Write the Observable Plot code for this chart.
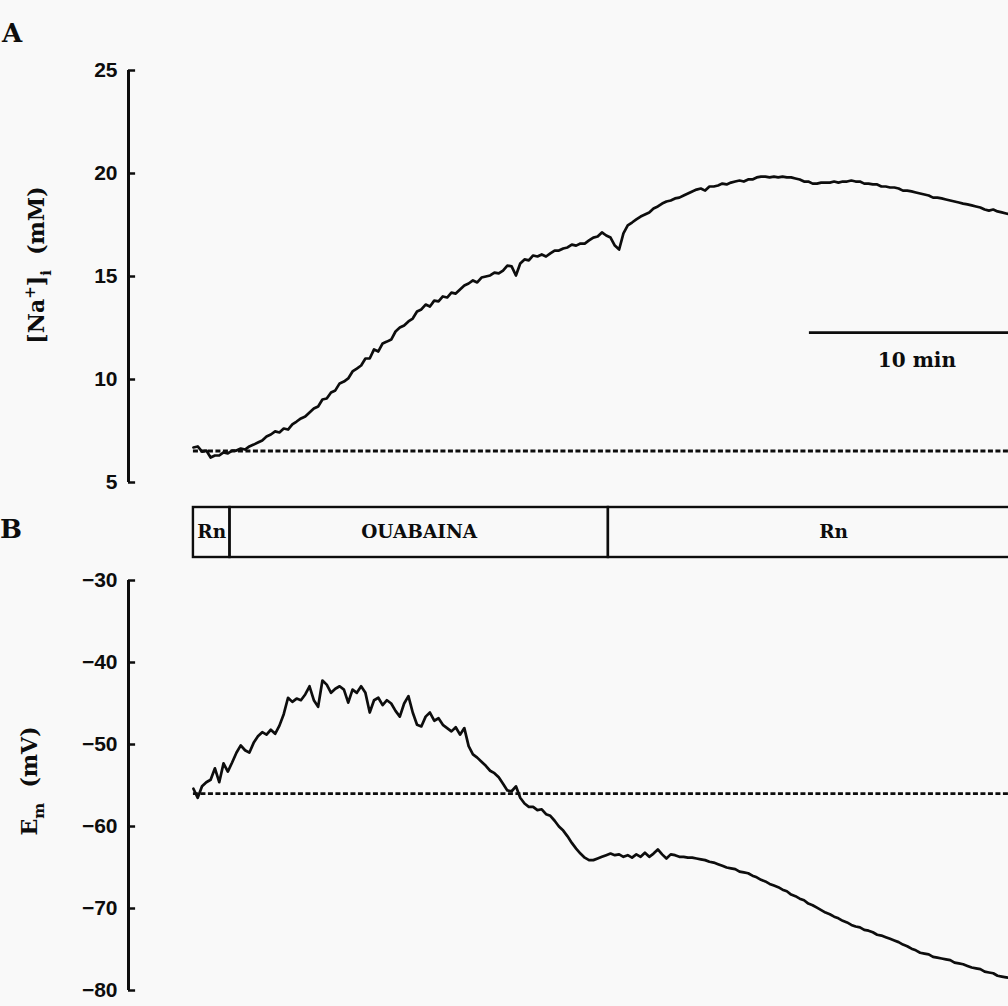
<!DOCTYPE html>
<html><head><meta charset="utf-8">
<script src="https://cdn.jsdelivr.net/npm/d3@7"></script>
<script src="https://cdn.jsdelivr.net/npm/@observablehq/plot@0.6"></script>
<style>
html,body{margin:0;padding:0;background:#f9f9f9;overflow:hidden;}
#chart{width:1008px;}
#chart svg{display:block;overflow:hidden;background:transparent;}
</style></head><body><div id="chart"></div>
<script>
// ---- data ----
const sampleStep = 0.2; // minutes between samples
const naValues = [
6.70, 6.75, 6.50, 6.55, 6.21, 6.31, 6.31, 6.46, 6.41, 6.55,
6.55, 6.65, 6.60, 6.75, 6.84, 6.94, 7.04, 7.23, 7.33, 7.48,
7.43, 7.62, 7.57, 7.82, 7.96, 8.11, 8.20, 8.40, 8.59, 8.69,
9.03, 9.08, 9.37, 9.47, 9.81, 9.90, 10.05, 10.39, 10.53, 10.68,
11.02, 11.02, 11.46, 11.36, 11.75, 11.84, 11.94, 12.33, 12.52, 12.62,
12.82, 12.96, 13.30, 13.40, 13.64, 13.54, 13.83, 13.79, 14.03, 13.98,
14.22, 14.17, 14.37, 14.56, 14.66, 14.81, 14.71, 14.95, 15.00, 15.05,
15.19, 15.15, 15.29, 15.53, 15.49, 15.05, 15.63, 15.83, 15.78, 16.02,
15.97, 16.07, 15.97, 16.12, 16.26, 16.26, 16.36, 16.41, 16.55, 16.50,
16.60, 16.60, 16.75, 16.89, 16.94, 17.14, 16.99, 16.89, 16.50, 16.31,
17.09, 17.48, 17.62, 17.77, 17.91, 18.01, 18.11, 18.30, 18.40, 18.54,
18.64, 18.69, 18.79, 18.83, 18.93, 19.03, 19.13, 19.22, 19.27, 19.17,
19.37, 19.37, 19.42, 19.51, 19.47, 19.56, 19.61, 19.66, 19.61, 19.71,
19.71, 19.81, 19.85, 19.85, 19.81, 19.85, 19.81, 19.85, 19.81, 19.81,
19.76, 19.71, 19.61, 19.61, 19.51, 19.51, 19.56, 19.56, 19.56, 19.61,
19.56, 19.61, 19.61, 19.66, 19.61, 19.61, 19.51, 19.51, 19.47, 19.47,
19.37, 19.37, 19.32, 19.32, 19.27, 19.17, 19.17, 19.13, 19.08, 19.03,
18.98, 18.93, 18.83, 18.83, 18.79, 18.74, 18.69, 18.64, 18.59, 18.54,
18.50, 18.45, 18.40, 18.35, 18.25, 18.20, 18.25, 18.16, 18.11, 18.06,
18.01
];
const emValues = [
-55.4, -56.5, -55.1, -54.6, -54.3, -52.9, -54.6, -52.3, -53.3, -52.2,
-51.0, -50.1, -50.7, -51.0, -49.8, -49.0, -48.5, -48.8, -48.2, -48.7,
-47.7, -46.3, -44.3, -44.8, -44.4, -44.6, -43.9, -42.9, -44.6, -45.4,
-42.2, -42.7, -43.7, -43.2, -42.9, -43.3, -44.9, -43.3, -43.7, -42.9,
-43.7, -46.1, -44.6, -44.3, -45.2, -44.6, -45.0, -45.9, -46.6, -45.0,
-44.1, -46.1, -47.6, -47.8, -46.6, -46.1, -47.1, -46.8, -47.6, -48.0,
-48.4, -47.9, -48.8, -48.0, -50.2, -51.2, -51.6, -52.1, -52.6, -53.2,
-53.5, -54.0, -54.8, -55.6, -55.7, -55.1, -56.5, -57.2, -57.6, -57.6,
-58.0, -57.9, -58.5, -58.7, -59.3, -60.0, -60.5, -61.2, -62.0, -62.7,
-63.3, -63.8, -64.1, -64.1, -63.9, -63.7, -63.5, -63.3, -63.5, -63.4,
-63.7, -63.5, -63.8, -63.4, -63.7, -63.2, -63.7, -63.3, -62.8, -63.4,
-63.9, -63.4, -63.5, -63.7, -63.7, -63.8, -63.8, -63.9, -64.0, -64.1,
-64.3, -64.4, -64.6, -64.8, -65.0, -65.1, -65.2, -65.5, -65.6, -65.7,
-66.0, -66.2, -66.5, -66.7, -67.0, -67.2, -67.4, -67.7, -67.9, -68.3,
-68.5, -68.8, -69.0, -69.4, -69.6, -69.9, -70.2, -70.5, -70.7, -71.0,
-71.2, -71.5, -71.7, -72.0, -72.2, -72.3, -72.6, -72.7, -72.9, -73.2,
-73.3, -73.5, -73.7, -73.9, -74.1, -74.4, -74.6, -74.9, -75.1, -75.4,
-75.5, -75.6, -75.9, -76.0, -76.1, -76.2, -76.3, -76.6, -76.7, -76.8,
-77.0, -77.2, -77.3, -77.4, -77.7, -77.8, -77.9, -78.2, -78.3, -78.4,
-78.5
];
const naBaseline = 6.53;   // mM, dashed reference
const emBaseline = -56.0;  // mV, dashed reference
const naTicks = [5, 10, 15, 20, 25];
const emTicks = [-30, -40, -50, -60, -70, -80];
const protocolLabels = ["Rn", "OUABAINA", "Rn"];
const protocolStart = [0, 1.7, 19.3];
const protocolEnd = [1.7, 19.3, 40.25];
const scaleBarMinutes = 10;
const scaleBarLabel = "10 min";

// ---- layout ----
const W = 1008;
const xDomain = [-3.02, 37.91];
const ink = "#0d0d0d";
const tickLen = 0.33;
const sans = "Liberation Sans";
const serif = "DejaVu Serif";
const lineW = 2.7;

const na = naValues.map((v, i) => ({t: i * sampleStep, v}));
const em = emValues.map((v, i) => ({t: i * sampleStep, v}));
const protocol = protocolLabels.map((label, i) => ({label, start: protocolStart[i], end: protocolEnd[i]}));
const fmt = d => (d < 0 ? "\u2212" + Math.abs(d) : String(d));
const style = {fontFamily: sans, fontSize: "21px", color: ink, background: "transparent", overflow: "hidden"};

function axisMarks(ticks, lo, hi) {
  return [
    Plot.ruleX([xDomain[0]], {y1: lo, y2: hi, stroke: ink, strokeWidth: 3}),
    Plot.ruleY(ticks, {x1: xDomain[0], x2: xDomain[0] + tickLen, stroke: ink, strokeWidth: 2.5}),
    Plot.text(ticks, {x: xDomain[0], y: d => d, text: fmt, textAnchor: "end", dx: -11, fill: ink, fontSize: 21, fontWeight: "bold", fontFamily: sans})
  ];
}

const scaleStart = 28.65;
const plotA = Plot.plot({
  width: W, height: 500, marginLeft: 128, marginRight: 0, marginTop: 70, marginBottom: 18,
  x: {domain: xDomain, axis: null},
  y: {domain: [5, 25], axis: null},
  style,
  marks: [
    ...axisMarks(naTicks, 5, 25),
    Plot.ruleY([naBaseline], {x1: 0, x2: xDomain[1], stroke: ink, strokeWidth: 2.8, strokeDasharray: "5,2.5"}),
    Plot.line(na, {x: "t", y: "v", stroke: ink, strokeWidth: lineW}),
    Plot.ruleY([12.28], {x1: scaleStart, x2: scaleStart + scaleBarMinutes, stroke: ink, strokeWidth: 2.8}),
    Plot.text([scaleBarLabel], {x: scaleStart + scaleBarMinutes / 2, y: 10.92, text: d => d, fontFamily: serif, fontWeight: "bold", fontSize: 20, fill: ink})
  ]
});

const plotBar = Plot.plot({
  width: W, height: 62, marginLeft: 128, marginRight: 0, marginTop: 7, marginBottom: 5,
  x: {domain: xDomain, axis: null},
  y: {domain: [0, 1], axis: null},
  style,
  marks: [
    Plot.rect(protocol, {x1: "start", x2: "end", y1: 0, y2: 1, fill: "none", stroke: ink, strokeWidth: 2.4}),
    Plot.text(protocol, {x: d => (d.start + d.end) / 2, y: 0.5, text: "label", fontFamily: serif, fontWeight: "bold", fontSize: 18.5, fill: ink})
  ]
});

const plotB = Plot.plot({
  width: W, height: 444, marginLeft: 128, marginRight: 0, marginTop: 18, marginBottom: 16,
  x: {domain: xDomain, axis: null},
  y: {domain: [-80, -30], axis: null},
  style,
  marks: [
    ...axisMarks(emTicks, -80, -30),
    Plot.ruleY([emBaseline], {x1: 0, x2: xDomain[1], stroke: ink, strokeWidth: 2.8, strokeDasharray: "5,2.5"}),
    Plot.line(em, {x: "t", y: "v", stroke: ink, strokeWidth: lineW})
  ]
});

const root = document.getElementById("chart");
root.append(plotA, plotBar, plotB);

function panelLetter(svg, x, y, s) {
  d3.select(svg).append("text").attr("x", x).attr("y", y)
    .attr("font-family", serif).attr("font-weight", "bold").attr("font-size", 26).attr("fill", ink).text(s);
}
function yTitle(svg, x, y, parts) {
  const t = d3.select(svg).append("text")
    .attr("transform", `translate(${x},${y}) rotate(-90)`)
    .attr("text-anchor", "middle").attr("font-family", serif).attr("font-weight", "bold")
    .attr("font-size", 22).attr("fill", ink).style("white-space", "pre");
  for (const p of parts) {
    const ts = t.append("tspan").text(p.text);
    if (p.dy) ts.attr("dy", p.dy);
    if (p.size) ts.attr("font-size", p.size);
  }
}
panelLetter(plotA, 12, 42, "A");
panelLetter(plotBar, 11, 38, "B");
yTitle(plotA, 44, 265, [
  {text: "[Na"}, {text: "+", dy: -9, size: 15}, {text: "]", dy: 9},
  {text: "i", dy: 7, size: 15}, {text: "  (mM)", dy: -7}
]);
yTitle(plotB, 37, 219, [
  {text: "E"}, {text: "m", dy: 7, size: 15}, {text: "  (mV)", dy: -7}
]);
</script></body></html>
